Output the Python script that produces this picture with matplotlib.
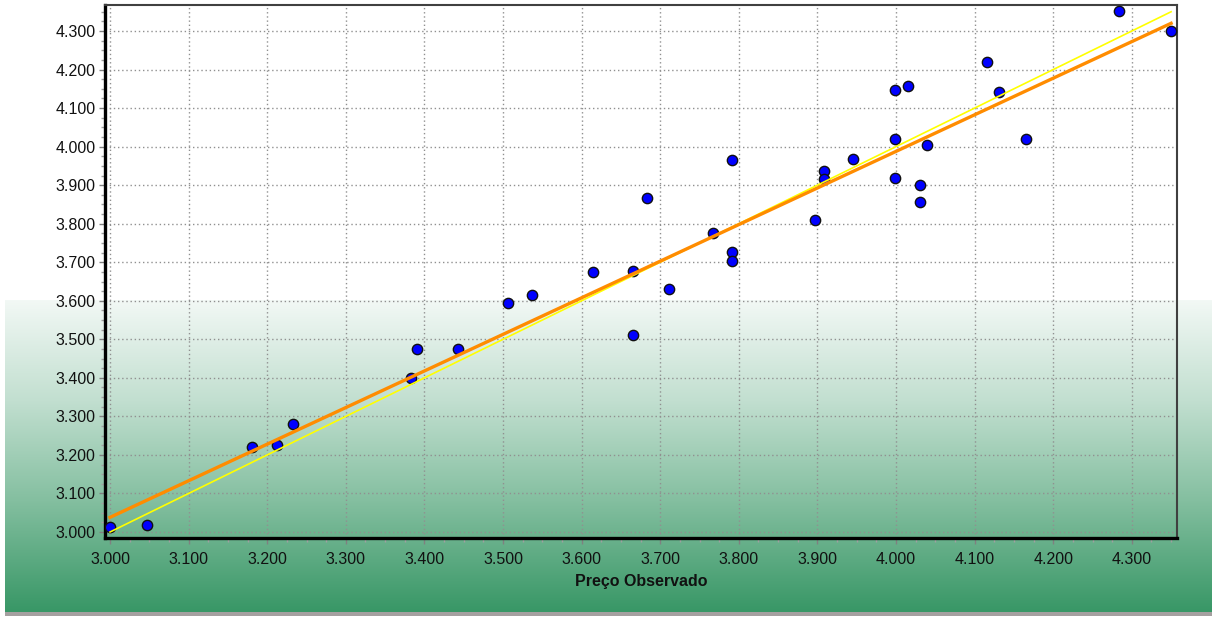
import numpy as np
import matplotlib
matplotlib.use("Agg")
import matplotlib.pyplot as plt
from matplotlib.ticker import MultipleLocator, FuncFormatter

# ---- data ----
preco_observado = [3.000, 3.047, 3.181, 3.212, 3.233, 3.383, 3.391, 3.443, 3.506, 3.537,
                   3.614, 3.665, 3.665, 3.683, 3.711, 3.767, 3.791, 3.791, 3.791, 3.897,
                   3.908, 3.908, 3.945, 3.999, 3.999, 3.999, 4.015, 4.031, 4.031, 4.039,
                   4.116, 4.131, 4.165, 4.284, 4.350]
preco_estimado = [3.013, 3.018, 3.221, 3.226, 3.280, 3.400, 3.475, 3.475, 3.594, 3.615,
                  3.675, 3.678, 3.511, 3.867, 3.631, 3.776, 3.965, 3.727, 3.703, 3.810,
                  3.937, 3.916, 3.968, 4.148, 4.020, 3.918, 4.157, 3.900, 3.856, 4.004,
                  4.220, 4.142, 4.020, 4.352, 4.300]
# regression line (value at x=3.000 and at x=4.350)
fit_x = [3.000, 4.350]
fit_y = [3.038, 4.320]
x_label = "Preço Observado"

plt.rcParams['font.family'] = ['Liberation Sans', 'DejaVu Sans']

W, H = 1212, 618
fig = plt.figure(figsize=(W / 100, H / 100), dpi=100)
fig.patch.set_facecolor('white')

# background gradient
bg = fig.add_axes([0, 0, 1, 1], zorder=0)
bg.set_axis_off()
rows = np.arange(H)
stops_y = [0, 299, 300, 400, 500, 611, 612, 615, 616, 618]
stops_c = np.array([[255, 255, 255], [255, 255, 255], [242, 248, 245], [194, 223, 208],
                    [132, 191, 160], [56, 151, 102], [165, 160, 160], [165, 160, 160],
                    [255, 255, 255], [255, 255, 255]], dtype=float)
img = np.zeros((H, W, 3))
for k in range(3):
    col = np.interp(rows, stops_y, stops_c[:, k])
    img[:, :, k] = col[:, None]
img[:, :5, :] = 255
bg.imshow(img / 255.0, aspect='auto', extent=[0, 1, 0, 1], origin='upper')
bg.set_xlim(0, 1); bg.set_ylim(0, 1)

ax = fig.add_axes([105 / W, 1 - 538 / H, (1177 - 105) / W, (538 - 5) / H], zorder=1)
ax.set_facecolor('none')

ax.scatter(preco_observado, preco_estimado, s=55, c='#0000ff', edgecolors='#101010',
           linewidths=1.0, zorder=3)
xs = np.array([min(preco_observado), max(preco_observado)])
ax.plot(xs, xs, color='#ffff00', lw=1.2, zorder=4)
ax.plot(fit_x, fit_y, color='#ff8c00', lw=2.4, zorder=5)

ax.set_xlim(2.9936, 4.3575)
ax.set_ylim(2.9844, 4.3675)

ax.xaxis.set_major_locator(MultipleLocator(0.1))
ax.yaxis.set_major_locator(MultipleLocator(0.1))
ax.xaxis.set_minor_locator(MultipleLocator(0.025))
ax.yaxis.set_minor_locator(MultipleLocator(0.025))
fmt = FuncFormatter(lambda v, p: f"{v:.3f}")
ax.xaxis.set_major_formatter(fmt)
ax.yaxis.set_major_formatter(fmt)

ax.grid(True, which='major', color='#909090', linestyle=(0, (1, 2)), linewidth=1.0, zorder=1)
ax.set_axisbelow(True)
ax.tick_params(which='major', length=4, width=1, color='#808080', labelsize=11.5,
               labelcolor='#111111')
ax.tick_params(axis='y', which='major', pad=3)
ax.tick_params(axis='x', which='major', pad=6)
ax.tick_params(which='minor', length=3, width=1, color='#a0a0a0')

for side in ['left', 'bottom']:
    ax.spines[side].set_color('black')
    ax.spines[side].set_linewidth(2.4)
for side in ['top', 'right']:
    ax.spines[side].set_color('#404040')
    ax.spines[side].set_linewidth(1.5)

ax.set_xlabel(x_label, fontsize=11.5, fontweight='bold', color='#111111', labelpad=5)

fig.savefig('out.png', dpi=100)
